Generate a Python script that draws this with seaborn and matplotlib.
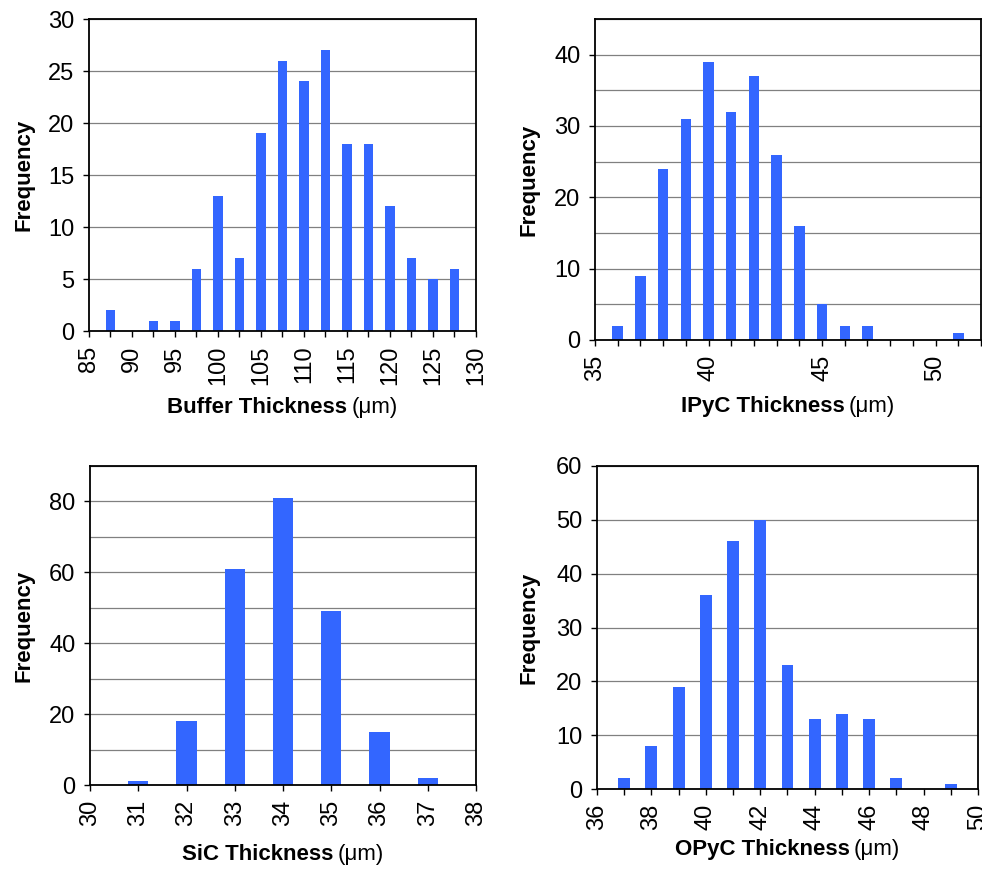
import matplotlib
matplotlib.use("Agg")
import matplotlib.pyplot as plt
from matplotlib.ticker import MultipleLocator, FormatStrFormatter
import seaborn as sns
import pandas as pd

# ---------------- data ----------------
buffer_thickness = [87.5, 90, 92.5, 95, 97.5, 100, 102.5, 105, 107.5, 110,
                    112.5, 115, 117.5, 120, 122.5, 125, 127.5]
buffer_freq = [2, 0, 1, 1, 6, 13, 7, 19, 26, 24, 27, 18, 18, 12, 7, 5, 6]

ipyc_thickness = [36, 37, 38, 39, 40, 41, 42, 43, 44, 45, 46, 47, 48, 49, 50, 51]
ipyc_freq = [2, 9, 24, 31, 39, 32, 37, 26, 16, 5, 2, 2, 0, 0, 0, 1]

sic_thickness = [31, 32, 33, 34, 35, 36, 37]
sic_freq = [1, 18, 61, 81, 49, 15, 2]

opyc_thickness = [37, 38, 39, 40, 41, 42, 43, 44, 45, 46, 47, 48, 49]
opyc_freq = [2, 8, 19, 36, 46, 50, 23, 13, 14, 13, 2, 0, 1]

x_labels = ["Buffer Thickness", "IPyC Thickness", "SiC Thickness", "OPyC Thickness"]
unit_label = "(\u03bcm)"
y_label = "Frequency"

# ---------------- style ----------------
sns.set_theme(style="white")
plt.rcParams["font.family"] = ["Liberation Sans", "DejaVu Sans"]
plt.rcParams["axes.edgecolor"] = "black"
plt.rcParams["text.color"] = "black"
plt.rcParams["xtick.color"] = "black"
plt.rcParams["ytick.color"] = "black"
plt.rcParams["xtick.labelcolor"] = "black"
plt.rcParams["ytick.labelcolor"] = "black"

BAR_COLOR = "#3366FF"
W, H = 982, 869
fig = plt.figure(figsize=(W / 100, H / 100), dpi=100)

def px_axes(left, top, right, bottom):
    return fig.add_axes([left / W, 1 - bottom / H, (right - left) / W, (bottom - top) / H])

panels = [
    dict(x=buffer_thickness, y=buffer_freq, rect=(89, 19, 476, 331), width=0.42,
         xlim=(85, 130), xmaj=5, xmin=2.5, ylim=(0, 30), ymaj=5, ymin=5,
         label=x_labels[0], base=413),
    dict(x=ipyc_thickness, y=ipyc_freq, rect=(595, 19, 981, 340), width=0.46,
         xlim=(35, 52), xmaj=5, xmin=1, ylim=(0, 45), ymaj=10, ymin=5,
         label=x_labels[1], base=412),
    dict(x=sic_thickness, y=sic_freq, rect=(90, 466, 476, 785), width=0.42,
         xlim=(30, 38), xmaj=1, xmin=1, ylim=(0, 90), ymaj=20, ymin=10,
         label=x_labels[2], base=860),
    dict(x=opyc_thickness, y=opyc_freq, rect=(597, 466, 978, 789), width=0.44,
         xlim=(36, 50), xmaj=2, xmin=1, ylim=(0, 60), ymaj=10, ymin=10,
         label=x_labels[3], base=855),
]

TICK_FS = 17
axes = []
for p in panels:
    ax = px_axes(*p["rect"])
    df = pd.DataFrame({"t": p["x"], "f": p["y"]})
    sns.barplot(data=df, x="t", y="f", native_scale=True, width=p["width"],
                color=BAR_COLOR, saturation=1, errorbar=None, linewidth=0, ax=ax)
    ax.set_xlim(*p["xlim"])
    ax.set_ylim(*p["ylim"])
    ax.xaxis.set_major_locator(MultipleLocator(p["xmaj"]))
    ax.xaxis.set_minor_locator(MultipleLocator(p["xmin"]))
    ax.yaxis.set_major_locator(MultipleLocator(p["ymaj"]))
    ax.yaxis.set_minor_locator(MultipleLocator(p["ymin"]))
    ax.xaxis.set_major_formatter(FormatStrFormatter("%g"))
    ax.yaxis.set_major_formatter(FormatStrFormatter("%g"))
    ax.set_xlabel("")
    ax.set_ylabel("")
    ax.set_axisbelow(True)
    ax.yaxis.grid(True, which="both", color="#808080", linewidth=0.9)
    ax.xaxis.grid(False)
    for s in ax.spines.values():
        s.set_visible(True)
        s.set_color("black")
        s.set_linewidth(1.3)
    ax.tick_params(axis="x", which="both", direction="out", length=4.5, width=1,
                   color="black", bottom=True, pad=6, labelsize=TICK_FS,
                   labelcolor="black")
    ax.tick_params(axis="y", which="major", direction="out", length=4.5, width=1,
                   color="black", left=True, pad=6, labelsize=TICK_FS,
                   labelcolor="black")
    ax.tick_params(axis="y", which="minor", length=0)
    for lab in ax.get_xticklabels():
        lab.set_rotation(90)
    axes.append(ax)

fig.canvas.draw()
r = fig.canvas.get_renderer()
for ax, p in zip(axes, panels):
    t1 = fig.text(0, 0, p["label"], fontsize=16, fontweight="bold",
                  va="baseline", ha="left", color="black")
    t2 = fig.text(0, 0, unit_label, fontsize=16, va="baseline", ha="left",
                  color="black")
    w1 = t1.get_window_extent(r).width
    w2 = t2.get_window_extent(r).width
    gap = 4
    bb = ax.get_window_extent(r)
    cx = (bb.x0 + bb.x1) / 2
    start = cx - (w1 + gap + w2) / 2
    yb = 1 - p["base"] / H
    t1.set_position((start / W, yb))
    t2.set_position(((start + w1 + gap) / W, yb))
    xl = 24 if bb.x0 < W / 2 else 529
    fig.text(xl / W, (bb.y0 + bb.y1) / 2 / H, y_label, fontsize=16,
             fontweight="bold", rotation=90, ha="center", va="center",
             color="black")

fig.savefig("out.png", dpi=100)
